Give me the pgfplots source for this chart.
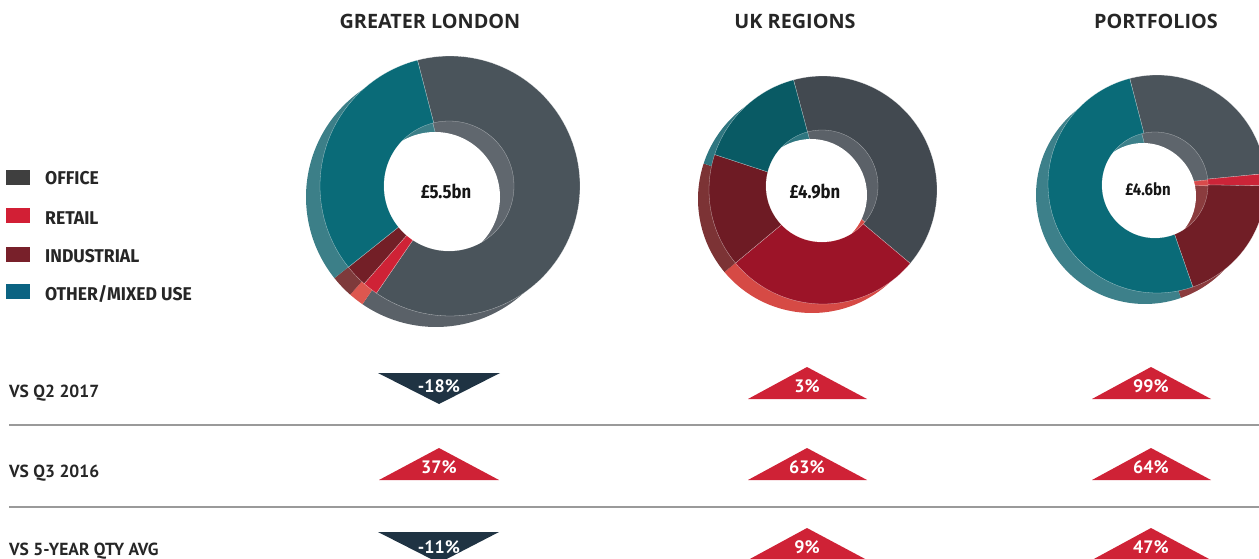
\documentclass[border=0pt]{standalone}
\usepackage{pgfplots}
\pgfplotsset{compat=1.18}
\usepackage{pgfplotstable}
\usepackage{fontspec}
\setmainfont{PT Sans}
\newfontfamily\titlefont{Open Sans}
\newfontfamily\legfont[FakeStretch=0.95]{Fira Sans}
\newfontfamily\ctrfont[FakeStretch=0.88]{Fira Sans}

% Greater London colours: top face, side wall, inner wall (0 office, 1 retail, 2 industrial, 3 other)
\definecolor{GLtop0}{HTML}{4A545B}\definecolor{GLtop1}{HTML}{CF2236}\definecolor{GLtop2}{HTML}{731F27}\definecolor{GLtop3}{HTML}{0A6B78}
\definecolor{GLside0}{HTML}{5A6168}\definecolor{GLside1}{HTML}{DD574F}\definecolor{GLside2}{HTML}{7E3A3B}\definecolor{GLside3}{HTML}{3C7F88}
\definecolor{GLin0}{HTML}{60676E}\definecolor{GLin1}{HTML}{D9534F}\definecolor{GLin2}{HTML}{85383A}\definecolor{GLin3}{HTML}{3C7F88}
% UK regions
\definecolor{UKtop0}{HTML}{424950}\definecolor{UKtop1}{HTML}{9C1428}\definecolor{UKtop2}{HTML}{6E1B24}\definecolor{UKtop3}{HTML}{095A64}
\definecolor{UKside0}{HTML}{5A6168}\definecolor{UKside1}{HTML}{D64A45}\definecolor{UKside2}{HTML}{7C3335}\definecolor{UKside3}{HTML}{2F7680}
\definecolor{UKin0}{HTML}{5B6168}\definecolor{UKin1}{HTML}{D64A45}\definecolor{UKin2}{HTML}{7C3335}\definecolor{UKin3}{HTML}{2F7680}
% Portfolios
\definecolor{PFtop0}{HTML}{4B545B}\definecolor{PFtop1}{HTML}{CC2438}\definecolor{PFtop2}{HTML}{711E26}\definecolor{PFtop3}{HTML}{0A6B78}
\definecolor{PFside0}{HTML}{5A6168}\definecolor{PFside1}{HTML}{D84B4B}\definecolor{PFside2}{HTML}{8B3C3E}\definecolor{PFside3}{HTML}{3D808A}
\definecolor{PFin0}{HTML}{5E656C}\definecolor{PFin1}{HTML}{D84B4B}\definecolor{PFin2}{HTML}{8B3C3E}\definecolor{PFin3}{HTML}{3D808A}
% legend / arrows / text
\definecolor{LegOffice}{HTML}{3F3F3F}\definecolor{LegRetail}{HTML}{D21F35}
\definecolor{LegInd}{HTML}{78202A}\definecolor{LegOther}{HTML}{0B6382}
\definecolor{UpRed}{HTML}{CF2236}\definecolor{DownNavy}{HTML}{1F3343}
\definecolor{TxtDark}{HTML}{262626}\definecolor{TxtBlack}{HTML}{161616}\definecolor{RuleGrey}{HTML}{9A9A9A}

% shares of each sector (percent)
\pgfplotstableread{
cat share
Office 63.6
Retail 1.9
Industrial 2.8
Other 31.7
}\tabGL
\pgfplotstableread{
cat share
Office 40.3
Retail 27.8
Industrial 16.1
Other 15.8
}\tabUK
\pgfplotstableread{
cat share
Office 27.5
Retail 1.8
Industrial 19.4
Other 51.3
}\tabPF

% #1 table, #2 cx, #3 cy, #4 radius, #5 colour prefix, #6 start angle, #7 extra options
\newcommand\donutlayer[7]{%
  \xdef\angA{#6}%
  \pgfplotsforeachungrouped \i in {0,1,2,3}{%
    \pgfplotstablegetelem{\i}{share}\of#1%
    \pgfmathsetmacro\angB{\angA-3.6*\pgfplotsretval}%
    \edef\doit{\noexpand\addplot[draw=none, fill=#5\i, domain=\angB:\angA, samples=90, forget plot, #7]
      ({#2+#4*cos(x)},{#3-#4*sin(x)}) -- (axis cs:#2,#3) -- cycle;}%
    \doit
    \xdef\angA{\angB}%
  }%
}

\begin{document}
\begin{tikzpicture}
\path[use as bounding box] (0,0) rectangle (1259pt,559pt);
\begin{axis}[at={(0,0)}, anchor=south west, scale only axis,
  width=1259pt, height=559pt, xmin=0, xmax=1259, ymin=0, ymax=559,
  y dir=reverse, hide axis, enlargelimits=false, clip=true]

% side walls (lower face, shifted)
\donutlayer{\tabGL}{436}{197}{130}{GLside}{104.5}{}
\donutlayer{\tabUK}{812}{199}{114}{UKside}{105}{}
\donutlayer{\tabPF}{1145}{195}{109}{PFside}{104.5}{}
% top faces
\donutlayer{\tabGL}{450}{186}{130}{GLtop}{104.5}{draw=white, line width=0.3pt, draw opacity=0.6}
\donutlayer{\tabUK}{823}{190}{114}{UKtop}{105}{draw=white, line width=0.3pt, draw opacity=0.6}
\donutlayer{\tabPF}{1157}{184}{109}{PFtop}{104.5}{draw=white, line width=0.3pt, draw opacity=0.6}
% inner walls seen through the hole
\donutlayer{\tabGL}{449}{186}{65}{GLin}{104.5}{draw=white, line width=0.3pt, draw opacity=0.5}
\donutlayer{\tabUK}{822}{186}{56}{UKin}{105}{draw=white, line width=0.3pt, draw opacity=0.5}
\donutlayer{\tabPF}{1155}{185}{53}{PFin}{104.5}{draw=white, line width=0.3pt, draw opacity=0.5}

% change arrows
\addplot[fill=DownNavy, draw=none] coordinates {(378,373) (500,373) (439,404) (378,373)};
\addplot[fill=UpRed, draw=none] coordinates {(379,480) (499,480) (439,448) (379,480)};
\addplot[fill=DownNavy, draw=none] coordinates {(378,532) (499,532) (439,563) (378,532)};
\addplot[fill=UpRed, draw=none] coordinates {(748,399) (867,399) (807,367) (748,399)};
\addplot[fill=UpRed, draw=none] coordinates {(748,480) (867,480) (807,448) (748,480)};
\addplot[fill=UpRed, draw=none] coordinates {(748,560) (867,560) (807,528) (748,560)};
\addplot[fill=UpRed, draw=none] coordinates {(1092,399) (1211,399) (1151,367) (1092,399)};
\addplot[fill=UpRed, draw=none] coordinates {(1092,480) (1211,480) (1151,448) (1092,480)};
\addplot[fill=UpRed, draw=none] coordinates {(1092,560) (1211,560) (1151,528) (1092,560)};

% holes
\begin{scope}
\clip (axis cs:449,186) circle[radius=65pt];
\fill[white] (axis cs:435,197) circle[radius=65pt];
\end{scope}
\begin{scope}
\clip (axis cs:822,186) circle[radius=56pt];
\fill[white] (axis cs:811,195) circle[radius=56pt];
\end{scope}
\begin{scope}
\clip (axis cs:1155,185) circle[radius=53pt];
\fill[white] (axis cs:1143,196) circle[radius=53pt];
\end{scope}

% separators
\draw[RuleGrey, line width=1.3pt] (axis cs:9,425) -- (axis cs:1259,425);
\draw[RuleGrey, line width=1.3pt] (axis cs:9,507) -- (axis cs:1259,507);

% titles
\tikzset{ttl/.style={anchor=base, text=TxtDark, font=\titlefont\bfseries\fontsize{19.8}{22}\selectfont}}
\node[ttl] at (axis cs:430,29) {GREATER LONDON};
\node[ttl] at (axis cs:795,29) {UK REGIONS};
\node[ttl] at (axis cs:1156,29) {PORTFOLIOS};

% centre values
\node[anchor=base, text=TxtBlack, font=\ctrfont\bfseries\fontsize{19}{20}\selectfont] at (axis cs:446,199) {£5.5bn};
\node[anchor=base, text=TxtBlack, font=\ctrfont\bfseries\fontsize{19}{20}\selectfont] at (axis cs:815,198) {£4.9bn};
\node[anchor=base, text=TxtBlack, font=\ctrfont\bfseries\fontsize{17}{20}\selectfont] at (axis cs:1148,196) {£4.6bn};

% legend
\fill[LegOffice] (axis cs:6,170) rectangle (axis cs:30,185);
\fill[LegRetail] (axis cs:6,208) rectangle (axis cs:30,223);
\fill[LegInd] (axis cs:6,247) rectangle (axis cs:30,262);
\fill[LegOther] (axis cs:6,284) rectangle (axis cs:30,299);
\tikzset{leg/.style={anchor=base west, inner sep=0pt, text=TxtDark, font=\legfont\bfseries\fontsize{18.5}{20}\selectfont}}
\node[leg] at (axis cs:45,185) {OFFICE};
\node[leg] at (axis cs:45,224) {RETAIL};
\node[leg] at (axis cs:45,262) {INDUSTRIAL};
\node[leg] at (axis cs:45,300) {OTHER/MIXED USE};

% row labels
\tikzset{row/.style={anchor=base west, inner sep=0pt, text=TxtDark, font=\bfseries\fontsize{17.5}{20}\selectfont}}
\node[row] at (axis cs:9,397) {VS Q2 2017};
\node[row] at (axis cs:9,477) {VS Q3 2016};
\node[row] at (axis cs:9,555) {VS 5-YEAR QTY AVG};

% percentages
\tikzset{pct/.style={anchor=base, inner sep=0pt, text=white, font=\bfseries\fontsize{18}{20}\selectfont}}
\node[pct] at (axis cs:439,392) {-18\%};
\node[pct] at (axis cs:439,473) {37\%};
\node[pct] at (axis cs:439,553) {-11\%};
\node[pct] at (axis cs:807,392) {3\%};
\node[pct] at (axis cs:807,473) {63\%};
\node[pct] at (axis cs:807,553) {9\%};
\node[pct] at (axis cs:1151,392) {99\%};
\node[pct] at (axis cs:1151,473) {64\%};
\node[pct] at (axis cs:1151,553) {47\%};
\end{axis}
\end{tikzpicture}
\end{document}
